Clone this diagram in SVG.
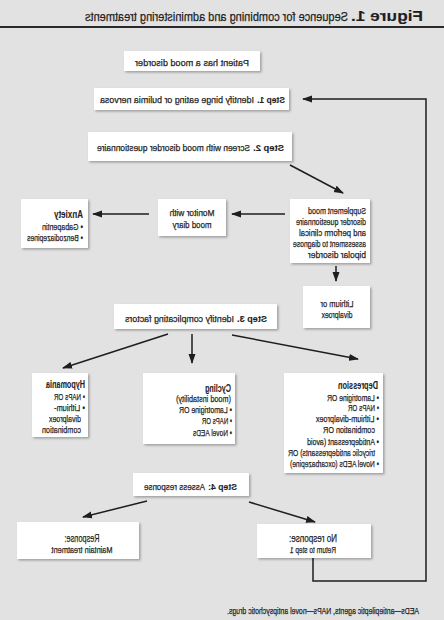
<svg xmlns="http://www.w3.org/2000/svg" width="444" height="620" viewBox="0 0 444 620">
<style>
.bg{fill:#e2e2e2}
.box{fill:#fff;filter:url(#sh)}
.t{font-family:"Liberation Sans",Arial,sans-serif;font-size:9.5px;fill:#1e1e1e;stroke:#1e1e1e;stroke-width:0.25}
.h{font-size:10.5px;font-weight:bold;stroke-width:0.1}
.b{font-weight:bold;stroke-width:0.1}
.c{text-anchor:middle}
.ln{stroke:#1e1e1e;stroke-width:1.5;fill:none;marker-end:url(#ah)}
</style>
<defs>
<filter id="sh" x="-20%" y="-20%" width="140%" height="140%">
<feDropShadow dx="-1.5" dy="1.5" stdDeviation="1" flood-color="#000" flood-opacity="0.3"/>
</filter>
<marker id="ah" markerUnits="userSpaceOnUse" markerWidth="10" markerHeight="8" refX="9" refY="4" orient="auto">
<path d="M0,0.5 L10,4 L0,7.5 z" fill="#1e1e1e"/>
</marker>
</defs>
<rect class="bg" x="0" y="0" width="444" height="620"/>
<g transform="matrix(-1 0 0 1 444 0)">
<g id="title">
<text class="t b" x="21" y="21" textLength="72" lengthAdjust="spacingAndGlyphs" style="font-size:14px">Figure 1.</text>
<text class="t" x="96" y="20.5" textLength="263" lengthAdjust="spacingAndGlyphs" style="font-size:13px">Sequence for combining and administering treatments</text>
<line x1="0" y1="27" x2="444" y2="27" stroke="#2a2a2a" stroke-width="2"/>
</g>
<g id="connectors">
<line class="ln" x1="154" y1="165" x2="101" y2="193"/>
<line class="ln" x1="159" y1="214" x2="212" y2="214"/>
<line class="ln" x1="295" y1="214" x2="351" y2="214"/>
<line class="ln" x1="108" y1="266" x2="108" y2="281"/>
<line class="ln" x1="276" y1="334" x2="381" y2="368"/>
<line class="ln" x1="252" y1="334" x2="252" y2="363"/>
<line class="ln" x1="212" y1="335" x2="86" y2="359"/>
<line class="ln" x1="297" y1="501" x2="361" y2="517"/>
<line class="ln" x1="195" y1="502" x2="129" y2="522"/>
<polyline class="ln" points="131,558 131,581 18,581 18,99 141,99"/>
</g>
<g id="patient">
<rect class="box" x="184" y="51" width="136" height="20"/>
<text class="t c" x="252" y="65.5" textLength="114" lengthAdjust="spacingAndGlyphs">Patient has a mood disorder</text>
</g>
<g id="step1">
<rect class="box" x="155" y="88" width="195" height="22"/>
<text class="t b" x="159" y="102.5" textLength="28" lengthAdjust="spacingAndGlyphs">Step 1.</text>
<text class="t" x="190" y="102.5" textLength="154" lengthAdjust="spacingAndGlyphs">Identify binge eating or bulimia nervosa</text>
</g>
<g id="step2">
<rect class="box" x="152" y="132" width="204" height="29"/>
<text class="t b" x="160" y="150.5" textLength="31" lengthAdjust="spacingAndGlyphs">Step 2.</text>
<text class="t" x="194" y="150.5" textLength="153" lengthAdjust="spacingAndGlyphs">Screen with mood disorder questionnaire</text>
</g>
<g id="supplement">
<rect class="box" x="74" y="199" width="80" height="64"/>
<text class="t" x="78" y="213.5" textLength="58" lengthAdjust="spacingAndGlyphs">Supplement mood</text>
<text class="t" x="78" y="224.5" textLength="70" lengthAdjust="spacingAndGlyphs">disorder questionnaire</text>
<text class="t" x="78" y="235.5" textLength="67" lengthAdjust="spacingAndGlyphs">and perform clinical</text>
<text class="t" x="78" y="246.5" textLength="73" lengthAdjust="spacingAndGlyphs">assessment to diagnose</text>
<text class="t" x="78" y="257.5" textLength="58" lengthAdjust="spacingAndGlyphs">bipolar disorder</text>
</g>
<g id="monitor">
<rect class="box" x="218" y="199" width="68" height="37"/>
<text class="t c" x="252" y="215.5" textLength="45" lengthAdjust="spacingAndGlyphs">Monitor with</text>
<text class="t c" x="252" y="227.5" textLength="39" lengthAdjust="spacingAndGlyphs">mood diary</text>
</g>
<g id="anxiety">
<rect class="box" x="356" y="199" width="67" height="49"/>
<text class="t h" x="361" y="218" textLength="29" lengthAdjust="spacingAndGlyphs">Anxiety</text>
<text class="t" x="361" y="229.5" textLength="41" lengthAdjust="spacingAndGlyphs">• Gabapentin</text>
<text class="t" x="361" y="240.5" textLength="56" lengthAdjust="spacingAndGlyphs">• Benzodiazepines</text>
</g>
<g id="lithium">
<rect class="box" x="74" y="286" width="67" height="42"/>
<text class="t c" x="107" y="306.5" textLength="33" lengthAdjust="spacingAndGlyphs">Lithium or</text>
<text class="t c" x="107" y="317.5" textLength="31" lengthAdjust="spacingAndGlyphs">divalproex</text>
</g>
<g id="step3">
<rect class="box" x="167" y="304" width="163" height="25"/>
<text class="t b" x="177" y="321.5" textLength="30" lengthAdjust="spacingAndGlyphs">Step 3.</text>
<text class="t" x="210" y="321.5" textLength="109" lengthAdjust="spacingAndGlyphs">Identify complicating factors</text>
</g>
<g id="hypomania">
<rect class="box" x="356" y="373" width="56" height="64"/>
<text class="t h" x="359" y="388" textLength="39" lengthAdjust="spacingAndGlyphs">Hypomania</text>
<text class="t" x="359" y="399.5" textLength="31" lengthAdjust="spacingAndGlyphs">• NAPs OR</text>
<text class="t" x="359" y="410.5" textLength="31" lengthAdjust="spacingAndGlyphs">• Lithium-</text>
<text class="t" x="363" y="421.5" textLength="32" lengthAdjust="spacingAndGlyphs">divalproex</text>
<text class="t" x="363" y="432.5" textLength="39" lengthAdjust="spacingAndGlyphs">combination</text>
</g>
<g id="cycling">
<rect class="box" x="209" y="373" width="92" height="71"/>
<text class="t h" x="213" y="391.5" textLength="26" lengthAdjust="spacingAndGlyphs">Cycling</text>
<text class="t" x="213" y="401.5" textLength="55" lengthAdjust="spacingAndGlyphs">(mood instability)</text>
<text class="t" x="212" y="412.5" textLength="53" lengthAdjust="spacingAndGlyphs">• Lamotrigine OR</text>
<text class="t" x="212" y="423.5" textLength="30" lengthAdjust="spacingAndGlyphs">• NAPs OR</text>
<text class="t" x="212" y="435.5" textLength="39" lengthAdjust="spacingAndGlyphs">• Novel AEDs</text>
</g>
<g id="depression">
<rect class="box" x="61" y="373" width="99" height="100"/>
<text class="t h" x="66" y="389" textLength="40" lengthAdjust="spacingAndGlyphs">Depression</text>
<text class="t" x="65" y="400.5" textLength="52" lengthAdjust="spacingAndGlyphs">• Lamotrigine OR</text>
<text class="t" x="65" y="410.5" textLength="31" lengthAdjust="spacingAndGlyphs">• NAPs OR</text>
<text class="t" x="65" y="421.5" textLength="63" lengthAdjust="spacingAndGlyphs">• Lithium-divalproex</text>
<text class="t" x="69" y="432.5" textLength="52" lengthAdjust="spacingAndGlyphs">combination OR</text>
<text class="t" x="65" y="444.5" textLength="72" lengthAdjust="spacingAndGlyphs">• Antidepressant (avoid</text>
<text class="t" x="69" y="455.5" textLength="87" lengthAdjust="spacingAndGlyphs">tricyclic antidepressants) OR</text>
<text class="t" x="65" y="466.5" textLength="89" lengthAdjust="spacingAndGlyphs">• Novel AEDs (oxcarbazepine)</text>
</g>
<g id="step4">
<rect class="box" x="195" y="473" width="116" height="23"/>
<text class="t b" x="207" y="489.5" textLength="29" lengthAdjust="spacingAndGlyphs">Step 4:</text>
<text class="t" x="239" y="489.5" textLength="61" lengthAdjust="spacingAndGlyphs">Assess response</text>
</g>
<g id="response">
<rect class="box" x="305" y="522" width="122" height="37"/>
<text class="t c" x="362" y="541.5" textLength="35" lengthAdjust="spacingAndGlyphs" style="font-size:11px">Response:</text>
<text class="t c" x="362" y="552.5" textLength="61" lengthAdjust="spacingAndGlyphs">Maintain treatment</text>
</g>
<g id="noresponse">
<rect class="box" x="73" y="524" width="114" height="34"/>
<text class="t c" x="131" y="541.5" textLength="48" lengthAdjust="spacingAndGlyphs" style="font-size:11px">No response:</text>
<text class="t c" x="131" y="552.5" textLength="46" lengthAdjust="spacingAndGlyphs">Return to step 1</text>
</g>
<g id="footnote">
<text class="t" x="25" y="614" textLength="192" lengthAdjust="spacingAndGlyphs">AEDs—antiepileptic agents, NAPs—novel antipsychotic drugs.</text>
</g>
</g>
</svg>
